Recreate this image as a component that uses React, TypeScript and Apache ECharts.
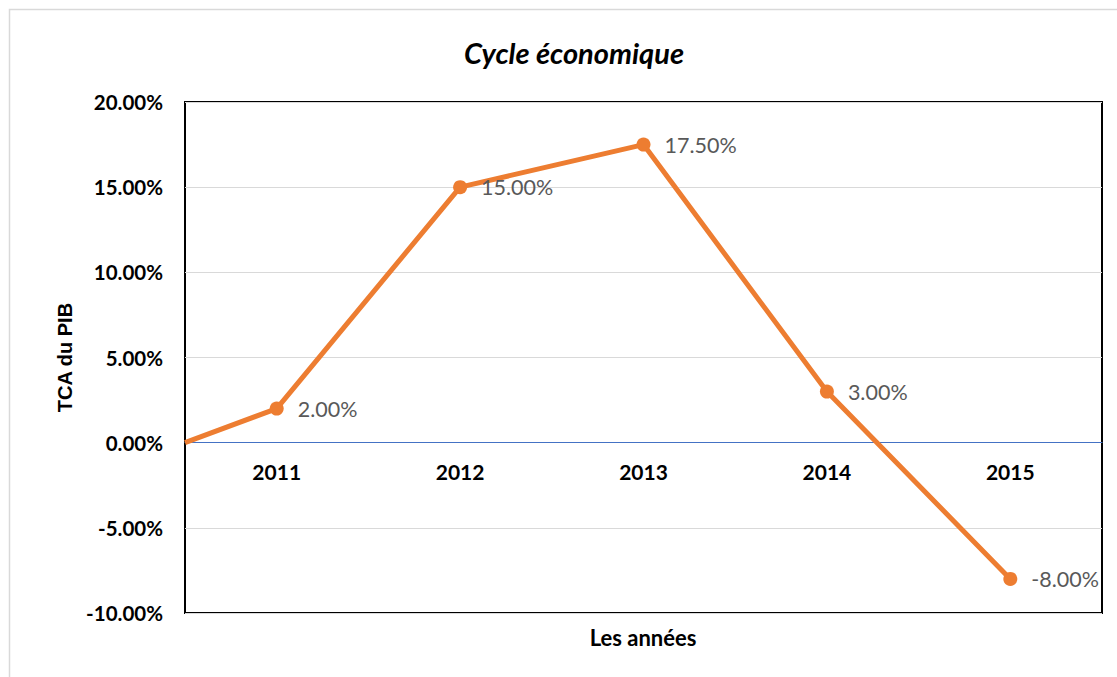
import React, { useEffect, useRef } from "react";
import * as echarts from "echarts";

const years = ["2011", "2012", "2013", "2014", "2015"];
const growth = [2, 15, 17.5, 3, -8];
const startPoint = [0, 0];
const yTicks = { min: -10, max: 20, interval: 5 };

export default function App() {
  const ref = useRef<HTMLDivElement>(null);
  useEffect(() => {
    if (!ref.current) return;
    const chart = echarts.init(ref.current, null, { renderer: "svg" });
    const font = "Lato, 'Open Sans', sans-serif";
    const seriesData: any[] = [
      { value: startPoint, symbol: "none", label: { show: false } },
      ...years.map((y, i) => ({ value: [2 * i + 1, growth[i]] })),
    ];
    chart.setOption({
      animation: false,
      backgroundColor: "#ffffff",
      title: {
        text: "Cycle économique",
        left: 569,
        top: 33,
        textAlign: "center",
        textStyle: { fontFamily: font, fontSize: 29, fontWeight: "bold", fontStyle: "italic", color: "#000" },
      },
      graphic: [
        {
          type: "rect",
          shape: { x: 9.5, y: 9.5, width: 1200, height: 800 },
          style: { fill: "none", stroke: "#d9d9d9", lineWidth: 1.5 },
          silent: true,
        },
        {
          type: "text",
          x: 643,
          y: 637,
          style: {
            text: "Les années",
            fontFamily: font,
            fontSize: 22,
            fontWeight: "bold",
            fill: "#000",
            align: "center",
            verticalAlign: "middle",
          },
        },
      ],
      grid: {
        left: 185,
        right: 15,
        top: 102,
        bottom: 64,
        show: true,
        borderColor: "#000",
        borderWidth: 2,
        backgroundColor: "transparent",
      },
      xAxis: {
        type: "value",
        min: 0,
        max: 2 * years.length,
        interval: 1,
        axisLine: { show: true, onZero: true, lineStyle: { color: "#4472c4", width: 1.2 } },
        axisTick: { show: false },
        splitLine: { show: false },
        axisLabel: {
          margin: -152,
          fontFamily: font,
          fontSize: 21,
          fontWeight: "bold",
          color: "#000",
          formatter: (v: number) => (v % 2 === 1 ? years[(v - 1) / 2] : ""),
        },
      },
      yAxis: {
        type: "value",
        min: yTicks.min,
        max: yTicks.max,
        interval: yTicks.interval,
        axisLine: { show: false },
        axisTick: { show: false },
        splitLine: { show: true, lineStyle: { color: "#d9d9d9", width: 1.2 } },
        axisLabel: {
          margin: 22,
          fontFamily: font,
          fontSize: 20.5,
          fontWeight: "bold",
          color: "#000",
          formatter: (v: number) => v.toFixed(2) + "%",
        },
        name: "TCA du PIB",
        nameLocation: "middle",
        nameGap: 106,
        nameTextStyle: { fontFamily: "'Liberation Sans', Arial, sans-serif", fontSize: 20, fontWeight: "bold", color: "#000" },
      },
      series: [
        {
          type: "line",
          data: seriesData,
          symbol: "circle",
          symbolSize: 14,
          lineStyle: { color: "#ed7d31", width: 5 },
          itemStyle: { color: "#ed7d31" },
          label: {
            show: true,
            position: "right",
            distance: 14,
            fontFamily: font,
            fontSize: 21.5,
            color: "#595959",
            formatter: (p: any) => p.value[1].toFixed(2) + "%",
          },
          z: 3,
        },
      ],
    });
    return () => chart.dispose();
  }, []);
  return <div ref={ref} style={{ position: "fixed", left: 0, top: 0, width: 1117, height: 677 }} />;
}
